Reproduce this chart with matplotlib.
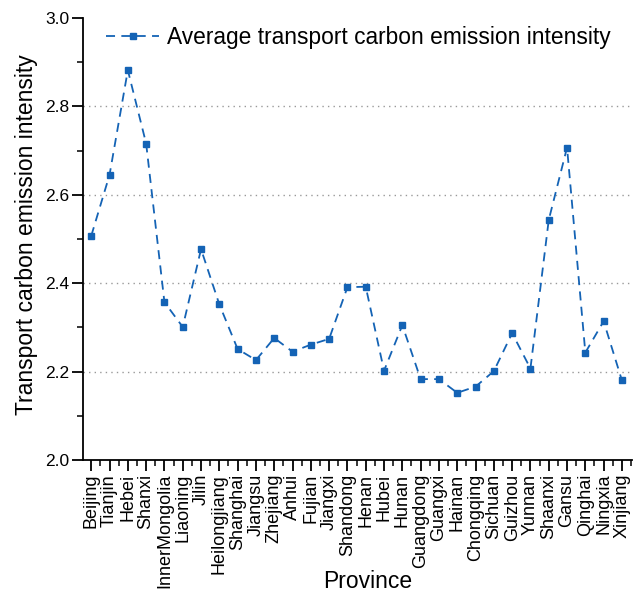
import matplotlib
matplotlib.use("Agg")
import matplotlib.pyplot as plt
from matplotlib.ticker import MultipleLocator

provinces = ["Beijing", "Tianjin", "Hebei", "Shanxi", "InnerMongolia", "Liaoning", "Jilin",
             "Heilongjiang", "Shanghai", "Jiangsu", "Zhejiang", "Anhui", "Fujian", "Jiangxi",
             "Shandong", "Henan", "Hubei", "Hunan", "Guangdong", "Guangxi", "Hainan",
             "Chongqing", "Sichuan", "Guizhou", "Yunnan", "Shaanxi", "Gansu", "Qinghai",
             "Ningxia", "Xinjiang"]
intensity = [2.507, 2.645, 2.882, 2.716, 2.357, 2.301, 2.477, 2.352, 2.251, 2.226,
             2.276, 2.245, 2.261, 2.274, 2.391, 2.392, 2.202, 2.305, 2.183, 2.183,
             2.152, 2.166, 2.201, 2.287, 2.207, 2.543, 2.707, 2.243, 2.314, 2.180]
y_ticks = [2.0, 2.2, 2.4, 2.6, 2.8, 3.0]

plt.rcParams['font.family'] = ['Liberation Sans', 'DejaVu Sans']

fig = plt.figure(figsize=(6.4, 5.95), dpi=100)
ax = fig.add_axes([83/640, 1-460/595, (632-83)/640, (460-18)/595])

x = list(range(len(provinces)))
color = '#1463b5'
ax.plot(x, intensity, linestyle=(0, (5, 3.5)), color=color, lw=1.3,
        marker='s', markersize=4, label='Average transport carbon emission intensity')

ax.set_ylim(2.0, 3.0)
ax.set_xlim(-0.45, len(provinces) - 0.45)
ax.set_yticks(y_ticks)
ax.set_yticklabels([f"{v:.1f}" for v in y_ticks], fontsize=12.5)
ax.yaxis.set_minor_locator(MultipleLocator(0.1))
ax.set_xticks(x)
ax.set_xticklabels(provinces, rotation=90, fontsize=13)
ax.xaxis.set_minor_locator(MultipleLocator(0.5))

for yv in y_ticks[1:-1]:
    ax.axhline(yv, color='#999999', lw=1.0, linestyle=(0, (1, 3)), zorder=0)

ax.spines['top'].set_visible(False)
ax.spines['right'].set_visible(False)
ax.spines['left'].set_linewidth(1.3)
ax.spines['bottom'].set_linewidth(1.3)
ax.tick_params(axis='both', which='major', direction='out', length=8, width=1.3, pad=2)
ax.tick_params(axis='both', which='minor', direction='out', length=4.5, width=1.1)

ax.set_xlabel('Province', fontsize=16.5, va='center')
ax.xaxis.set_label_coords((368 - 83) / (632 - 83), -(581 - 460) / (460 - 18))
ax.set_ylabel('Transport carbon emission intensity', fontsize=16.5, va='center')
ax.yaxis.set_label_coords(-(83 - 27) / (632 - 83), (460 - 235) / (460 - 18))

ax.legend(loc='upper right', frameon=False, fontsize=16.4, handlelength=2.3,
          handletextpad=0.35, borderaxespad=0.55, bbox_to_anchor=(1.0, 1.0 + 14 / 442))

fig.savefig('out.png', dpi=100)
